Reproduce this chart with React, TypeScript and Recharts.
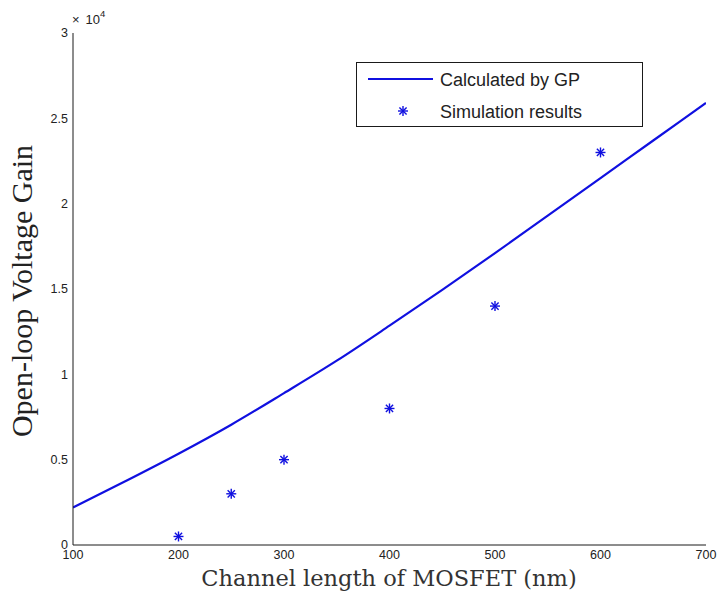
import React from 'react';
import { ComposedChart, Line, Scatter, XAxis, YAxis, Legend, Customized } from 'recharts';

const gpLength = [100, 150, 200, 250, 300, 350, 400, 450, 500, 550, 600, 650, 700];
const gpGain = [2200, 3750, 5350, 7050, 8900, 10800, 12850, 14950, 17100, 19300, 21500, 23700, 25900];
const simLength = [200, 250, 300, 400, 500, 600];
const simGain = [500, 3000, 5000, 8000, 14000, 23000];
const xTicks = [100, 200, 300, 400, 500, 600, 700];
const yTicks = [0, 5000, 10000, 15000, 20000, 25000, 30000];

const gpData = gpLength.map((x, i) => ({ x, y: gpGain[i] }));
const simData = simLength.map((x, i) => ({ x, y: simGain[i] }));

const BLUE = '#1010e0';
const AXIS = '#1a1a1a';
const tickFont = { fontFamily: '"Liberation Sans", Arial, sans-serif', fontSize: 12.5, fill: '#222' };
const blank = () => '';

const Star = ({ cx, cy, r = 5 }: { cx: number; cy: number; r?: number }) => {
  const d = r * 0.72;
  return (
    <g stroke={BLUE} strokeWidth={1.4}>
      <line x1={cx - r} y1={cy} x2={cx + r} y2={cy} />
      <line x1={cx} y1={cy - r} x2={cx} y2={cy + r} />
      <line x1={cx - d} y1={cy - d} x2={cx + d} y2={cy + d} />
      <line x1={cx - d} y1={cy + d} x2={cx + d} y2={cy - d} />
    </g>
  );
};

const legendText = { fontFamily: '"Liberation Sans", Arial, sans-serif', fontSize: 18 };

const LegendBox = () => (
  <div
    style={{
      width: 287,
      height: 65,
      boxSizing: 'border-box',
      border: `1px solid ${AXIS}`,
      background: '#fff',
      position: 'relative',
    }}
  >
    <svg width={287} height={65} style={{ position: 'absolute', left: -1, top: -1 }}>
      <line x1={12} y1={17} x2={77} y2={17} stroke={BLUE} strokeWidth={2} />
      <Star cx={47} cy={49} r={5} />
      <text x={84} y={23.5} style={legendText} fill="#222">
        Calculated by GP
      </text>
      <text x={84} y={55.5} style={legendText} fill="#222">
        Simulation results
      </text>
    </svg>
  </div>
);

const Texts = () => (
  <g>
    <text x={72} y={24} style={{ fontFamily: '"Liberation Sans", Arial, sans-serif', fontSize: 13 }} fill="#222">
      ×
      <tspan dx={6}>10</tspan>
      <tspan dy={-7} fontSize={9.5}>4</tspan>
    </text>
    <text
      x={389}
      y={586}
      textAnchor="middle"
      style={{ fontFamily: '"DejaVu Serif", serif', fontSize: 22.5 }}
      fill="#333"
    >
      Channel length of MOSFET (nm)
    </text>
    <text
      x={32}
      y={291}
      textAnchor="middle"
      transform="rotate(-90, 32, 291)"
      style={{ fontFamily: '"Liberation Serif", "Times New Roman", serif', fontSize: 30 }}
      fill="#222"
    >
      Open-loop Voltage Gain
    </text>
  </g>
);

export default function App() {
  return (
    <div style={{ position: 'absolute', left: 0, top: 0, width: 718, height: 597, background: '#fff' }}>
      <ComposedChart width={718} height={597} margin={{ top: 33, right: 12, bottom: 0, left: 0 }}>
        <XAxis
          xAxisId="b"
          dataKey="x"
          type="number"
          domain={[100, 700]}
          ticks={xTicks}
          allowDataOverflow
          height={52}
          stroke={AXIS}
          tickLine={false}
          tickSize={0}
          tickMargin={5}
          tick={tickFont}
        />
        <XAxis
          xAxisId="bt"
          type="number"
          domain={[100, 700]}
          ticks={xTicks}
          allowDataOverflow
          height={0}
          mirror
          axisLine={false}
          stroke={AXIS}
          tickSize={5}
          tickFormatter={blank}
        />
        <XAxis
          xAxisId="t"
          orientation="top"
          type="number"
          domain={[100, 700]}
          ticks={xTicks}
          allowDataOverflow
          height={0}
          mirror
          stroke={AXIS}
          tickSize={5}
          tickFormatter={blank}
        />
        <YAxis
          yAxisId="l"
          dataKey="y"
          type="number"
          domain={[0, 30000]}
          ticks={yTicks}
          allowDataOverflow
          width={73}
          stroke={AXIS}
          tickLine={false}
          tickSize={0}
          tickMargin={5}
          tick={tickFont}
          tickFormatter={(v: number) => String(v / 10000)}
        />
        <YAxis
          yAxisId="lt"
          type="number"
          domain={[0, 30000]}
          ticks={yTicks}
          allowDataOverflow
          width={0}
          mirror
          axisLine={false}
          stroke={AXIS}
          tickSize={5}
          tickFormatter={blank}
        />
        <YAxis
          yAxisId="r"
          orientation="right"
          type="number"
          domain={[0, 30000]}
          ticks={yTicks}
          allowDataOverflow
          width={0}
          mirror
          stroke={AXIS}
          tickSize={5}
          tickFormatter={blank}
        />
        <Line
          xAxisId="b"
          yAxisId="l"
          data={gpData}
          dataKey="y"
          type="monotone"
          stroke={BLUE}
          strokeWidth={2.2}
          dot={false}
          isAnimationActive={false}
        />
        <Scatter
          xAxisId="b"
          yAxisId="l"
          data={simData}
          dataKey="y"
          isAnimationActive={false}
          shape={(p: any) => <Star cx={p.cx} cy={p.cy} r={5} />}
        />
        <Legend
          layout="vertical"
          align="center"
          verticalAlign="middle"
          wrapperStyle={{ left: 356, top: 62, width: 287, height: 65 }}
          content={() => <LegendBox />}
        />
        <Customized component={Texts} />
      </ComposedChart>
    </div>
  );
}
